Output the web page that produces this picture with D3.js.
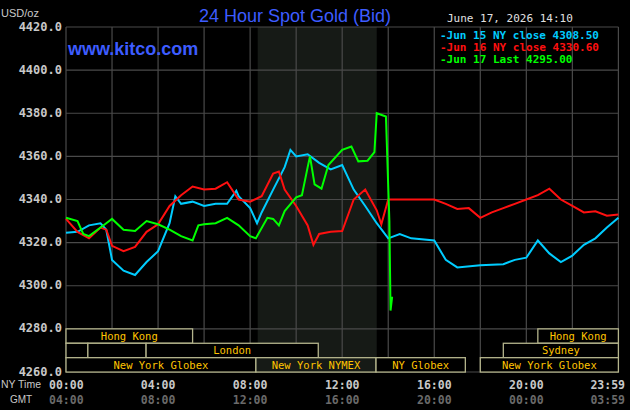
<!DOCTYPE html>
<html><head><meta charset="utf-8">
<script src="https://cdn.jsdelivr.net/npm/d3@7"></script>
<style>body{margin:0;background:#000}svg{display:block}</style>
</head><body><svg id="c"></svg>
<script>
// ---- data ----
const hoursA = [0,0.5,1,1.5,1.75,2,2.5,3,3.5,4,4.5,4.75,5,5.5,6,6.5,7,7.4,7.5,8,8.3,8.5,9,9.5,9.75,10,10.5,11,11.5,12,12.5,13,13.5,14,14.5,15,16,16.5,17,18,19,19.5,20,20.5,21,21.5,22,22.5,23,23.5,24];
const jun15 = [4324.6,4325,4328,4329,4326,4312,4307,4305,4311,4316,4329,4341.5,4338,4339,4337,4338,4338,4344,4341.5,4336,4329,4334,4344.6,4355,4363,4360,4361,4357,4354,4356,4344.6,4337,4329,4322,4324,4322,4321,4312,4308.5,4309.5,4310,4312,4313,4321,4315,4311,4314,4319,4322,4327,4331.5];
const hoursB = [0,0.5,1,1.5,1.75,2,2.5,3,3.5,4,4.5,5,5.5,6,6.5,7,7.5,8,8.5,9,9.25,9.5,10,10.5,10.75,11,11.5,12,12.5,13,13.5,13.7,14,15,16,16.5,17,17.5,18,18.5,19,19.5,20,20.5,21,21.5,22,22.5,23,23.5,24];
const jun16 = [4331,4325,4322,4327,4326,4318.5,4316,4318,4325,4328.5,4337,4342,4346,4344.6,4345,4348,4340,4339,4341.5,4352,4353,4344.6,4337,4328,4319,4324,4325,4325.4,4340,4344.6,4335,4328.5,4340,4340,4340,4338,4335.6,4336,4331.5,4334,4336,4338,4340,4342,4345,4340,4337,4334,4334.5,4332.5,4333];
const hoursC = [0,0.5,0.75,1,1.5,1.75,2,2.5,3,3.5,4,4.5,5,5.5,5.75,6,6.5,7,7.5,8,8.25,8.75,9,9.25,9.5,10,10.25,10.5,10.6,10.8,11.1,11.4,12,12.4,12.7,13.1,13.4,13.5,13.9,14.05,14.1,14.17];
const jun17 = [4331.5,4330,4324,4323,4327,4329,4331,4326,4325.4,4330,4328.5,4326,4323,4321,4328,4328.5,4329,4331.5,4328,4323,4322,4331.5,4331,4328,4334.6,4341,4342,4355,4360,4347,4345,4356,4363,4364.6,4357.7,4358,4362,4380,4378.5,4330,4288.5,4295];
const yTicks = [4260,4280,4300,4320,4340,4360,4380,4400,4420];
const xTicks = [0,4,8,12,16,20,23.983];
const nyLabels = ["00:00","04:00","08:00","12:00","16:00","20:00","23:59"];
const gmtLabels = ["04:00","08:00","12:00","16:00","20:00","00:00","03:59"];
const legend = [["-Jun 15 NY close 4308.50","#00ccff"],["-Jun 16 NY close 4330.60","#ff1010"],["-Jun 17 Last 4295.00","#00ff00"]];
// sessions: [row, start, end, label]
const sessions = [
  [0,0,5.5,"Hong Kong"],[0,20.5,24,"Hong Kong"],
  [1,0,0.95,""],[1,0.95,3.48,""],[1,3.48,10.96,"London"],[1,19,24,"Sydney"],
  [2,0,8.25,"New York Globex"],[2,8.25,13.47,"New York NYMEX"],[2,13.47,17.35,"NY Globex"],[2,18,24,"New York Globex"]
];

const W = 630, H = 410;
const svg = d3.select("#c").attr("width", W).attr("height", H);
svg.append("rect").attr("width", W).attr("height", H).attr("fill", "#000");

const x = d3.scaleLinear().domain([0, 24]).range([66, 618.4]);
const y = d3.scaleLinear().domain([4260, 4420]).range([372, 27]);
const mono = "DejaVu Sans Mono, monospace";
const sans = "Liberation Sans, sans-serif";

// NYMEX shading
svg.append("rect").attr("x", x(8.33)).attr("width", x(13.5) - x(8.33))
  .attr("y", y(4420)).attr("height", y(4260) - y(4420)).attr("fill", "#161a16");

// grid
for (let h = 0; h <= 24; h += 2) {
  svg.append("line").attr("x1", x(h)).attr("x2", x(h)).attr("y1", y(4420)).attr("y2", y(4260))
    .attr("stroke", "#4a4a4a").attr("stroke-width", 1.2);
}
yTicks.forEach(v => {
  svg.append("line").attr("x1", x(0)).attr("x2", x(24)).attr("y1", y(v)).attr("y2", y(v))
    .attr("stroke", "#4a4a4a").attr("stroke-width", 1.2);
  svg.append("text").attr("x", 62).attr("y", y(v) + 3.5).attr("text-anchor", "end")
    .attr("fill", "#c8c8c8").attr("font-family", mono).attr("font-size", 12).attr("font-weight", "bold")
    .text(v.toFixed(1));
});

// sessions
const rowY = r => y(4280) + r * 14.4;
sessions.forEach(([r, a, b, lab]) => {
  svg.append("rect").attr("x", x(a)).attr("y", rowY(r)).attr("width", x(b) - x(a)).attr("height", 14.4)
    .attr("fill", a === 8.25 ? "#161a16" : "#000").attr("stroke", "#b4b48c").attr("stroke-width", 1.3);
  if (lab) svg.append("text").attr("x", (x(a) + x(b)) / 2).attr("y", rowY(r) + 11).attr("text-anchor", "middle")
    .attr("fill", "#ffc400").attr("font-family", mono).attr("font-size", 10.5).text(lab);
});

// lines
const line = d3.line().x(d => x(d[0])).y(d => y(d[1]));
[[hoursA, jun15, "#00ccff"], [hoursB, jun16, "#ff1010"], [hoursC, jun17, "#00ff00"]].forEach(([hs, vs, c]) => {
  svg.append("path").datum(hs.map((h, i) => [h, vs[i]])).attr("d", line)
    .attr("fill", "none").attr("stroke", c).attr("stroke-width", 2);
});

// x labels
xTicks.forEach((h, i) => {
  const last = i === xTicks.length - 1;
  const xx = last ? 625 : (i === 0 ? 49 : x(h));
  const anc = last ? "end" : (i === 0 ? "start" : "middle");
  svg.append("text").attr("x", xx).attr("y", 389).attr("text-anchor", anc).attr("fill", "#c8c8c8")
    .attr("font-family", mono).attr("font-size", 11.5).attr("font-weight", "bold").text(nyLabels[i]);
  svg.append("text").attr("x", xx).attr("y", 404).attr("text-anchor", anc).attr("fill", "#6a6a6a")
    .attr("font-family", mono).attr("font-size", 11.5).attr("font-weight", "bold").text(gmtLabels[i]);
});
svg.append("text").attr("x", 1).attr("y", 388).attr("fill", "#c8c8c8").attr("font-family", sans)
  .attr("font-size", 10).attr("textLength", 40).attr("lengthAdjust", "spacingAndGlyphs").text("NY Time");
svg.append("text").attr("x", 10).attr("y", 403).attr("fill", "#c8c8c8").attr("font-family", sans)
  .attr("font-size", 10).text("GMT");

// titles
svg.append("text").attr("x", 1).attr("y", 17).attr("fill", "#c8c8c8").attr("font-family", sans).attr("font-size", 11).text("USD/oz");
svg.append("text").attr("x", 295).attr("y", 22).attr("text-anchor", "middle").attr("fill", "#3d5cff")
  .attr("font-family", sans).attr("font-size", 18).text("24 Hour Spot Gold (Bid)");
svg.append("text").attr("x", 68).attr("y", 55).attr("fill", "#3d5cff").attr("font-family", sans)
  .attr("font-size", 18).attr("font-weight", "bold").text("www.kitco.com");
svg.append("text").attr("x", 447).attr("y", 22).attr("fill", "#e0e0e0").attr("font-family", mono).attr("font-size", 11).text("June 17, 2026 14:10");
legend.forEach(([t, c], i) => {
  svg.append("text").attr("x", 440).attr("y", 39 + i * 12).attr("fill", c).attr("font-family", mono)
    .attr("font-size", 11).attr("font-weight", "bold").text(t);
});
</script></body></html>
